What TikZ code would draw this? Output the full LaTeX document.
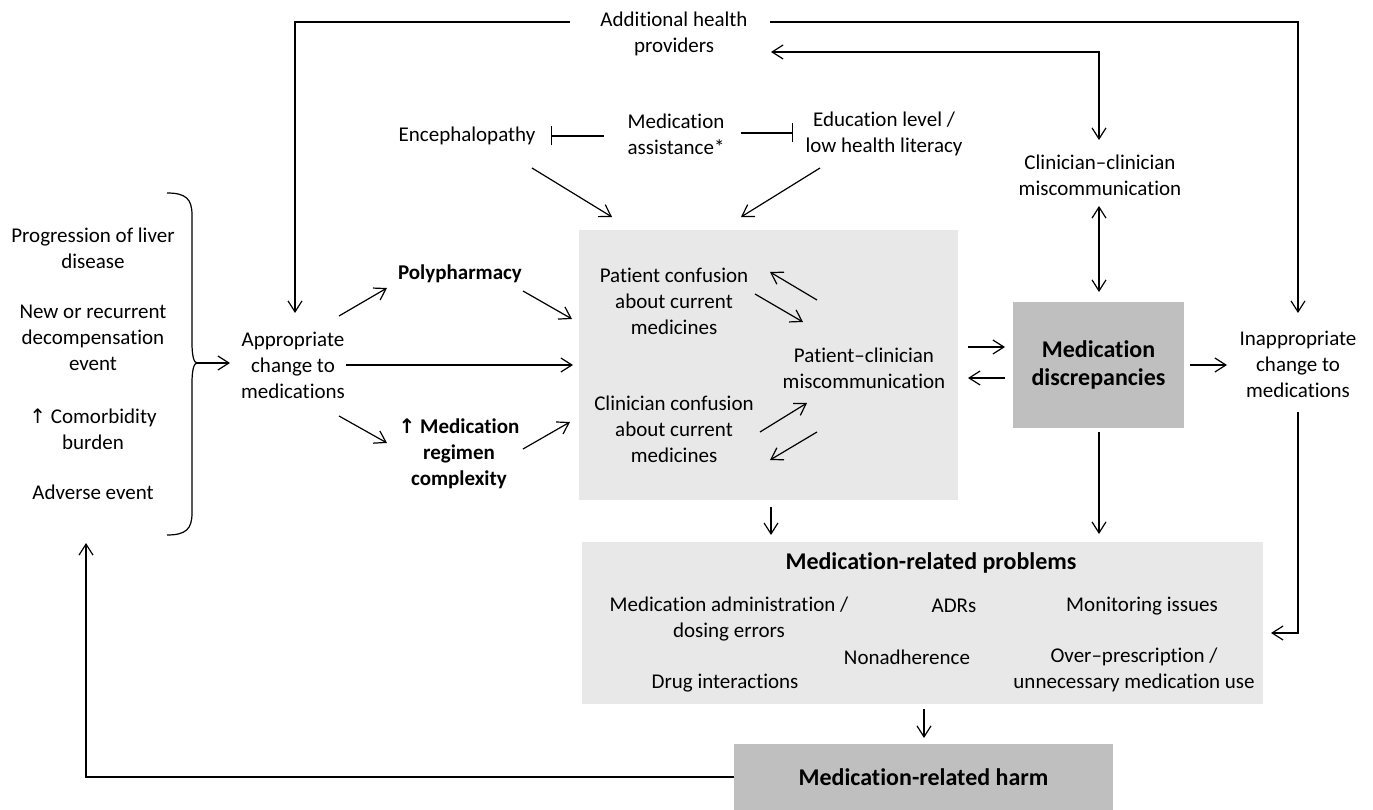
\documentclass[tikz,border=0pt]{standalone}
\usepackage{fontspec}
\setmainfont{Carlito}[Ligatures=NoCommon]
\newfontfamily\symfont{DejaVu Sans}
\usetikzlibrary{arrows.meta}
\definecolor{boxlight}{RGB}{232,232,232}
\definecolor{boxdark}{RGB}{191,191,191}
\begin{document}
\begin{tikzpicture}[x=1pt,y=-1pt,
  every node/.style={font=\fontsize{21}{26}\selectfont, align=center, inner sep=0pt},
  boldt/.style={font=\fontsize{21}{26}\selectfont\bfseries},
  headt/.style={font=\fontsize{24}{28}\selectfont\bfseries},
  arr/.style={-{Straight Barb[length=11pt,width=14pt]}, line width=1.2pt},
  darr/.style={{Straight Barb[length=11pt,width=14pt]}-{Straight Barb[length=11pt,width=14pt]}, line width=1.2pt},
  inh/.style={-{Bar[width=19pt]}, line width=1.2pt},
  plain/.style={line width=1.2pt},
  lightbox/.style={fill=boxlight, draw=none},
  darkbox/.style={fill=boxdark, draw=none}]
\useasboundingbox (0,0) rectangle (1373,810);

% boxes
\node[lightbox, anchor=north west, minimum width=379pt, minimum height=270pt] (cbox) at (579,230) {};
\node[lightbox, anchor=north west, minimum width=681pt, minimum height=162pt] (prob) at (582,542) {};
\node[darkbox, headt, minimum width=171pt, minimum height=126pt] (disc) at (1098.5,365) {Medication\\discrepancies};
\node[darkbox, headt, minimum width=379pt, minimum height=66pt] (harm) at (923.5,777) {Medication-related harm};

% text nodes
\node (add) at (674,34) {Additional health\\providers};
\node (enc) at (467,136) {Encephalopathy};
\node (assist) at (676,134) {Medication\\assistance*};
\node (edu) at (884,134) {Education level /\\low health literacy};
\node (cc) at (1100,175) {Clinician–clinician\\miscommunication};
\node (prog) at (93,248) {Progression of liver\\disease};
\node (newrec) at (93,338) {New or recurrent\\decompensation\\event};
\node (comorb) at (93,429) {{\symfont\fontsize{20}{26}\selectfont ↑} Comorbidity\\burden};
\node (adverse) at (93,492) {Adverse event};
\node (approp) at (293,365) {Appropriate\\change to\\medications};
\node[boldt] (poly) at (460,274) {Polypharmacy};
\node[boldt] (regimen) at (459,454) {{\symfont\bfseries\fontsize{20}{26}\selectfont ↑} Medication\\regimen\\complexity};
\node (pconf) at (674,301) {Patient confusion\\about current\\medicines};
\node (cconf) at (674,429) {Clinician confusion\\about current\\medicines};
\node (pcm) at (864,368) {Patient–clinician\\miscommunication};
\node (inapp) at (1298,364) {Inappropriate\\change to\\medications};
\node[headt] (probt) at (931,563) {Medication-related problems};
\node (admin) at (729,619) {Medication administration /\\dosing errors};
\node (adrs) at (954,606) {ADRs};
\node (monit) at (1142,606) {Monitoring issues};
\node (nonadh) at (907,657) {Nonadherence};
\node (over) at (1134,670) {Over–prescription /\\unnecessary medication use};
\node (drug) at (725,683) {Drug interactions};

% connector end points
\coordinate (addL) at (570,22);
\coordinate (addR) at (770,22);
\coordinate (apTop) at (295,313);
\coordinate (inTop) at (1298,313);
\coordinate (addArr) at (771,52);
\coordinate (ccTop) at (1099,140);
\coordinate (assistL) at (604,136);
\coordinate (encR) at (551,136);
\coordinate (assistR) at (741,133);
\coordinate (eduL) at (793,133);
\coordinate (encOut) at (532,168);
\coordinate (encIn) at (612,217);
\coordinate (eduOut) at (820,168);
\coordinate (eduIn) at (741,217);
\coordinate (ccBot) at (1099,206);
\coordinate (discTop) at (1099,292);
\coordinate (btip) at (197,363);
\coordinate (apIn) at (230,363);
\coordinate (ap1) at (339,316);
\coordinate (poly1) at (387,288);
\coordinate (poly2) at (523,291);
\coordinate (cb1) at (572,319);
\coordinate (ap2) at (346,365);
\coordinate (cb2) at (573,365);
\coordinate (ap3) at (339,416);
\coordinate (reg1) at (387,443);
\coordinate (reg2) at (523,449);
\coordinate (cb3) at (570,422);
\coordinate (pc1) at (817,300);
\coordinate (pc2) at (770,272);
\coordinate (pc3) at (755,294);
\coordinate (pc4) at (803,322);
\coordinate (cc1) at (760,432);
\coordinate (cc2) at (807,403);
\coordinate (cc3) at (817,432);
\coordinate (cc4) at (770,460);
\coordinate (cbR1) at (968,347);
\coordinate (dL1) at (1005,347);
\coordinate (dL2) at (1005,378);
\coordinate (cbR2) at (968,378);
\coordinate (dR) at (1190,365);
\coordinate (inL) at (1227,365);
\coordinate (inBot) at (1298,412);
\coordinate (probR) at (1271,633);
\coordinate (dBot) at (1099,432);
\coordinate (probT1) at (1099,534);
\coordinate (cbBot) at (771,507);
\coordinate (probT2) at (771,535);
\coordinate (probB) at (924,709);
\coordinate (harmT) at (924,738);
\coordinate (harmL) at (734,777);
\coordinate (loopUp) at (86,543);

% connectors
\draw[arr] (addL) -| (apTop);
\draw[arr] (addR) -| (inTop);
\draw[darr] (addArr) -| (ccTop);
\draw[inh] (assistL) -- (encR);
\draw[inh] (assistR) -- (eduL);
\draw[arr] (encOut) -- (encIn);
\draw[arr] (eduOut) -- (eduIn);
\draw[darr] (ccBot) -- (discTop);
\draw[plain] (167,193) .. controls (186,193) and (192,199) .. (192,215) -- (192,343)
  .. controls (192,356) and (194,363) .. (btip)
  .. controls (194,363) and (192,370) .. (192,383) -- (192,513)
  .. controls (192,529) and (186,535) .. (167,535);
\draw[arr] (btip) -- (apIn);
\draw[arr] (ap1) -- (poly1);
\draw[arr] (poly2) -- (cb1);
\draw[arr] (ap2) -- (cb2);
\draw[arr] (ap3) -- (reg1);
\draw[arr] (reg2) -- (cb3);
\draw[arr] (pc1) -- (pc2);
\draw[arr] (pc3) -- (pc4);
\draw[arr] (cc1) -- (cc2);
\draw[arr] (cc3) -- (cc4);
\draw[arr] (cbR1) -- (dL1);
\draw[arr] (dL2) -- (cbR2);
\draw[arr] (dR) -- (inL);
\draw[arr] (inBot) |- (probR);
\draw[arr] (dBot) -- (probT1);
\draw[arr] (cbBot) -- (probT2);
\draw[arr] (probB) -- (harmT);
\draw[arr] (harmL) -| (loopUp);
\end{tikzpicture}
\end{document}
